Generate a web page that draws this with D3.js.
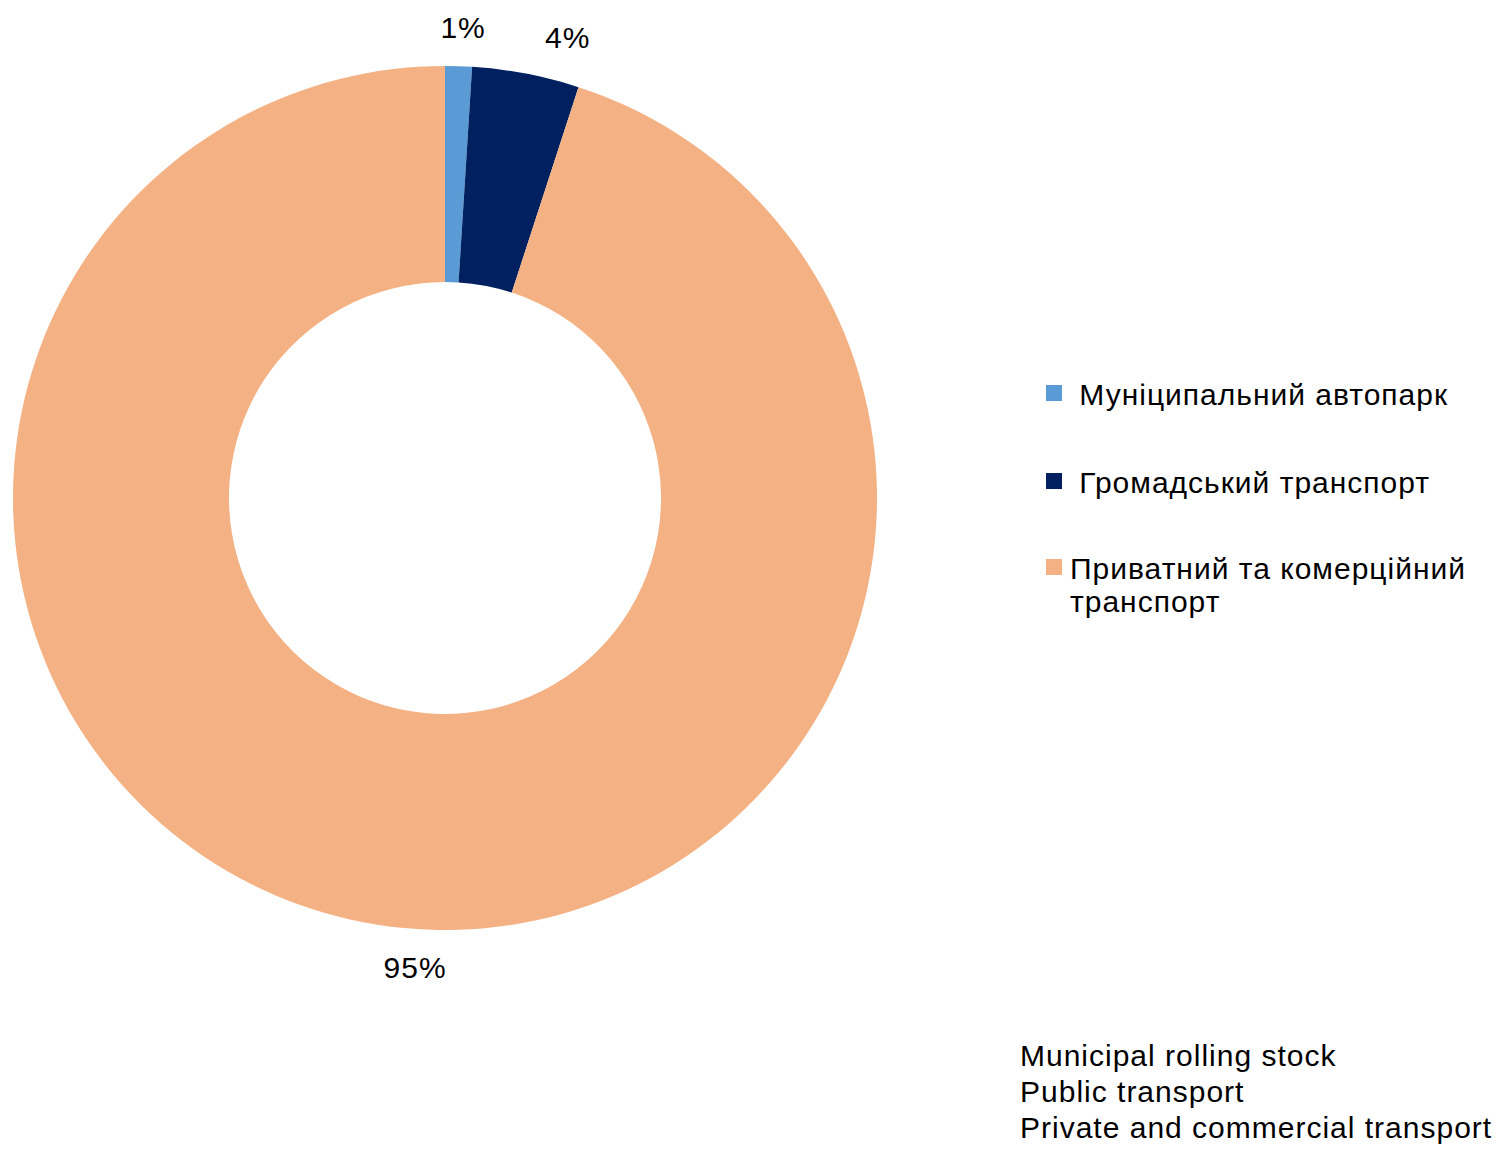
<!DOCTYPE html>
<html>
<head>
<meta charset="utf-8">
<script src="https://cdn.jsdelivr.net/npm/d3@7/dist/d3.min.js"></script>
<style>
  html, body { margin: 0; padding: 0; background: #fff; }
  svg { display: block; font-family: "Liberation Sans", Arial, sans-serif; }
  text { white-space: pre; letter-spacing: 1px; }
</style>
</head>
<body>
<script>
// Vehicle fleet structure, share in percent
const categories = ["Муніципальний автопарк", "Громадський транспорт", "Приватний та комерційний транспорт"];
const legendLines = [[" Муніципальний автопарк"], [" Громадський транспорт"], ["Приватний та комерційний", "транспорт"]];
const shares = [1, 4, 95];
const colors = ["#5B9BD5", "#002060", "#F4B183"];
const englishNames = ["Municipal rolling stock", "Public transport", "Private and commercial transport"];

const W = 1495, H = 1149;
const cx = 445, cy = 498, rOuter = 432, rInner = 216;
const fontSize = 30;
// placement of each outside label: angular nudge (degrees) and radius
const labelPlace = [[0.4, 471], [4.1, 477], [-5.35, 470.5]];

const svg = d3.select("body").append("svg").attr("width", W).attr("height", H);

const data = categories.map((c, i) => ({ name: c, value: shares[i], color: colors[i], i }));
const pie = d3.pie().value(d => d.value).sort(null);
const arcs = pie(data);
const arc = d3.arc().innerRadius(rInner).outerRadius(rOuter);

const g = svg.append("g").attr("transform", `translate(${cx},${cy})`);
g.selectAll("path.slice").data(arcs).join("path")
  .attr("class", "slice")
  .attr("d", arc)
  .attr("fill", d => d.data.color);

function labelPoint(d) {
  const [nudge, r] = labelPlace[d.data.i];
  const a = (d.startAngle + d.endAngle) / 2 + nudge * Math.PI / 180;
  return [r * Math.sin(a), -r * Math.cos(a)];
}

// percentage labels outside the ring
g.selectAll("text.pct").data(arcs).join("text")
  .attr("class", "pct")
  .attr("text-anchor", "middle")
  .attr("font-size", fontSize)
  .attr("fill", "#000")
  .attr("x", d => labelPoint(d)[0])
  .attr("y", d => labelPoint(d)[1] + 10.5)
  .text(d => d3.format(".0f")(d.data.value) + "%");

// legend
const legendTops = [385, 473, 559];
const legend = svg.append("g");
data.forEach((d, i) => {
  legend.append("rect")
    .attr("x", 1046).attr("y", legendTops[i])
    .attr("width", 16).attr("height", 16)
    .attr("fill", d.color);
  legendLines[i].forEach((line, j) => {
    legend.append("text")
      .attr("x", 1070)
      .attr("y", legendTops[i] + 20 + j * 33)
      .attr("font-size", fontSize)
      .attr("fill", "#000")
      .text(line);
  });
});

// English names
svg.append("g").selectAll("text").data(englishNames).join("text")
  .attr("x", 1020)
  .attr("y", (d, i) => 1066 + i * 36)
  .attr("font-size", fontSize)
  .attr("fill", "#000")
  .text(d => d);
</script>
</body>
</html>
